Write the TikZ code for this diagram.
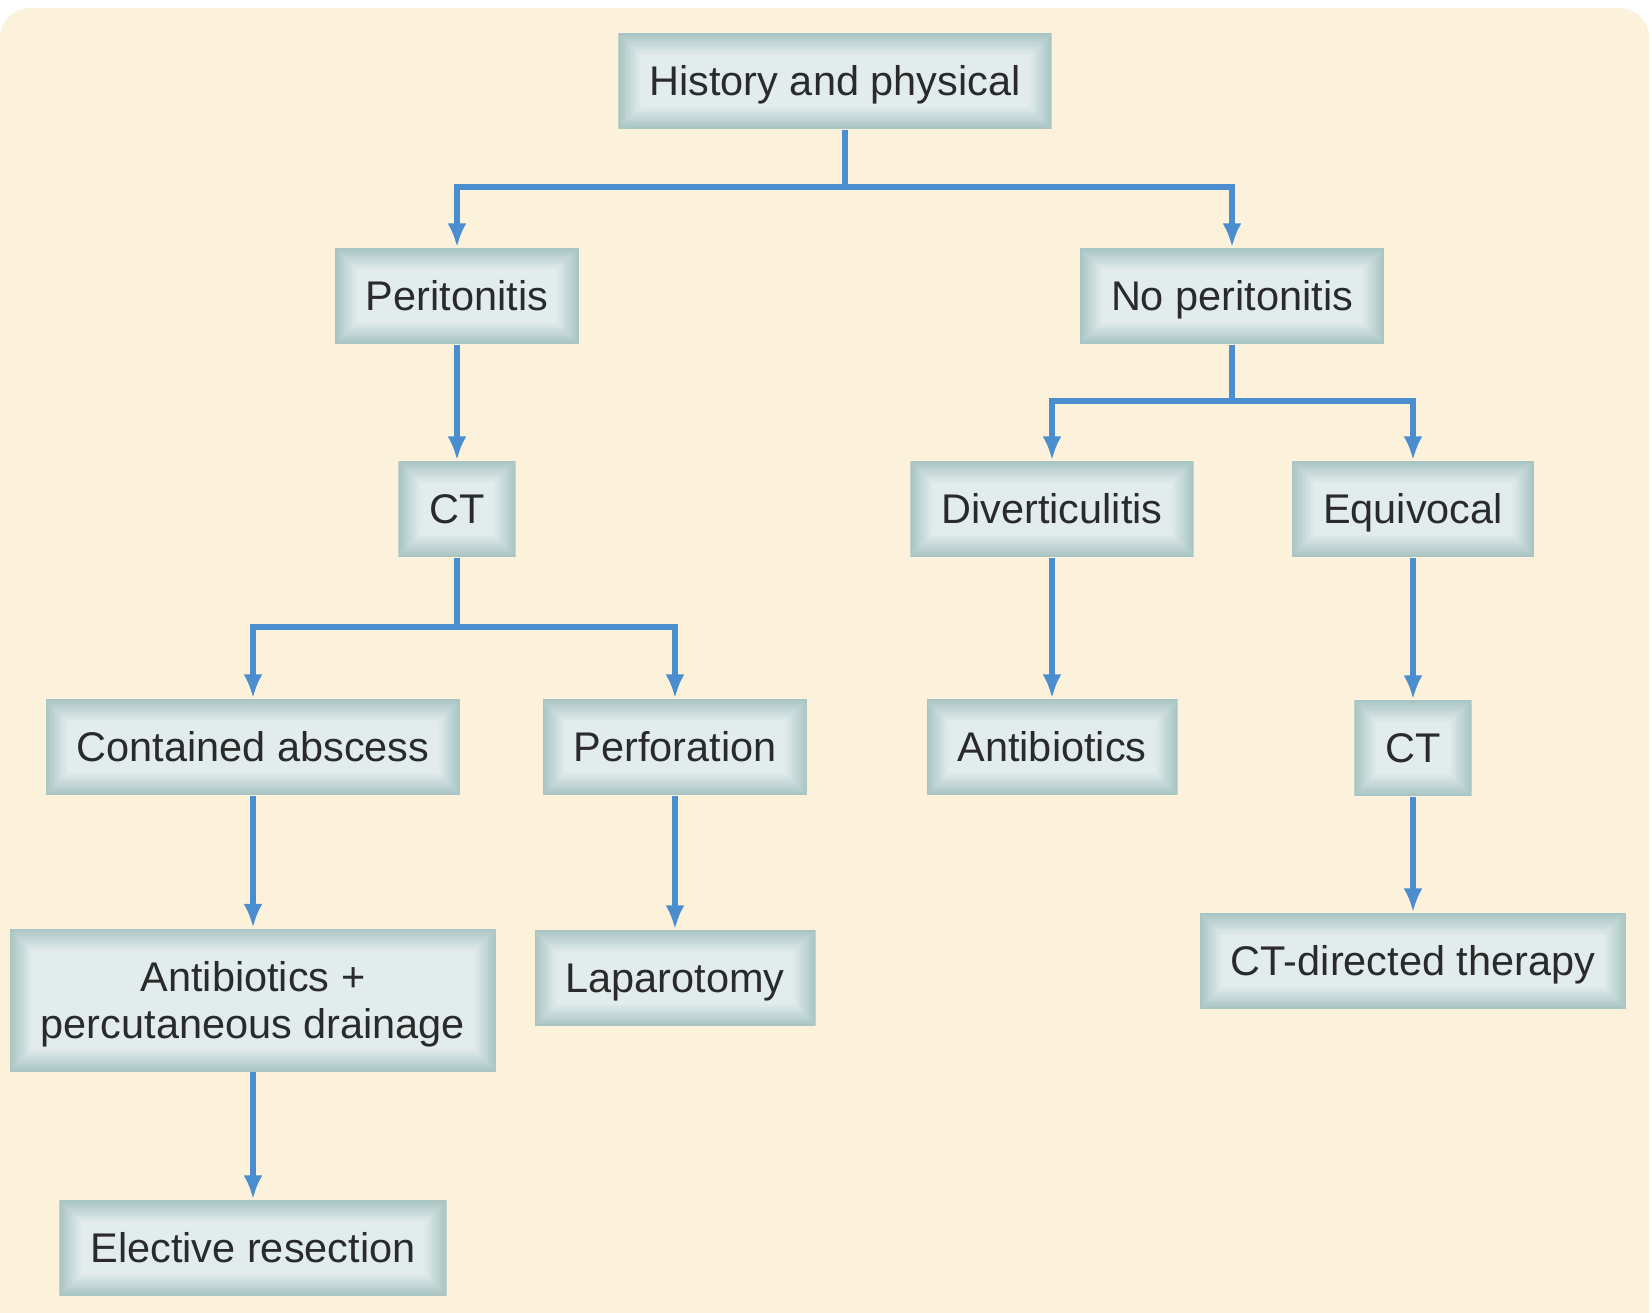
\documentclass[tikz,border=0pt]{standalone}
\usepackage{fontspec}
\setmainfont{Liberation Sans}
\usepackage{tikz}
\usetikzlibrary{arrows.meta}
\definecolor{paper}{HTML}{FCF2DC}
\definecolor{boxedge}{HTML}{A9C5C3}
\definecolor{boxcore}{HTML}{E4EDEE}
\definecolor{flowblue}{HTML}{4A8ECF}
\definecolor{inkgrey}{HTML}{2A2A2A}
\tikzset{
  stepbox/.style={rectangle, inner xsep=0.31cm, inner ysep=0pt, minimum height=0.96cm,
    text height=8.45pt, text depth=0pt,
    align=center, text=inkgrey, font=\fontsize{11.8}{13.2}\selectfont,
    path picture={
      \foreach \i [evaluate=\i as \pc using int(7*\i)] in {0,...,14}
        \fill[boxcore!\pc!boxedge] ([shift={(\i*0.45pt,-\i*0.45pt)}]path picture bounding box.north west)
          rectangle ([shift={(-\i*0.45pt,\i*0.45pt)}]path picture bounding box.south east);
    }},
  arr/.style={draw=flowblue, line width=1.5pt, -{Latex[length=2.4mm,width=1.9mm]}},
  trunk/.style={draw=flowblue, line width=1.5pt}
}

\begin{document}
\begin{tikzpicture}
\useasboundingbox (0,0) rectangle (16.52,13.12);
\fill[white] (0,0) rectangle (16.52,13.12);
\fill[paper, rounded corners=0.3cm] (0,-0.3) rectangle (16.49,13.04);
% boxes
\node[stepbox] (hp) at (8.35,12.31) {History and physical};
\node[stepbox] (per) at (4.57,10.16) {Peritonitis};
\node[stepbox] (noper) at (12.32,10.16) {No peritonitis};
\node[stepbox] (ctl) at (4.57,8.03) {CT};
\node[stepbox] (div) at (10.52,8.03) {Diverticulitis};
\node[stepbox] (equ) at (14.13,8.03) {Equivocal};
\node[stepbox] (abs) at (2.53,5.65) {Contained abscess};
\node[stepbox] (perf) at (6.75,5.65) {Perforation};
\node[stepbox] (abx) at (10.52,5.65) {Antibiotics};
\node[stepbox] (ctr) at (14.13,5.64) {CT};
\node[stepbox, minimum height=1.43cm, text height=21.65pt] (drain) at (2.53,3.12) {Antibiotics +\\percutaneous drainage};
\node[stepbox] (lap) at (6.75,3.34) {Laparotomy};
\node[stepbox] (ctdt) at (14.13,3.51) {CT-directed therapy};
\node[stepbox] (elect) at (2.53,0.64) {Elective resection};
% split points
\coordinate (s1) at (8.45,11.25);
\coordinate (s2) at (12.32,9.11);
\coordinate (s3) at (4.57,6.85);
% connectors
\draw[trunk] (s1 |- hp.south) -- (s1);
\draw[arr] (s1) -| (per.north);
\draw[arr] (s1) -| (noper.north);
\draw[arr] (per) -- (ctl);
\draw[trunk] (noper.south) -- (s2);
\draw[arr] (s2) -| (div.north);
\draw[arr] (s2) -| (equ.north);
\draw[trunk] (ctl.south) -- (s3);
\draw[arr] (s3) -| (abs.north);
\draw[arr] (s3) -| (perf.north);
\draw[arr] (div) -- (abx);
\draw[arr] (equ) -- (ctr);
\draw[arr] (abs) -- (drain);
\draw[arr] (perf) -- (lap);
\draw[arr] (ctr) -- (ctdt);
\draw[arr] (drain) -- (elect);
\end{tikzpicture}
\end{document}
